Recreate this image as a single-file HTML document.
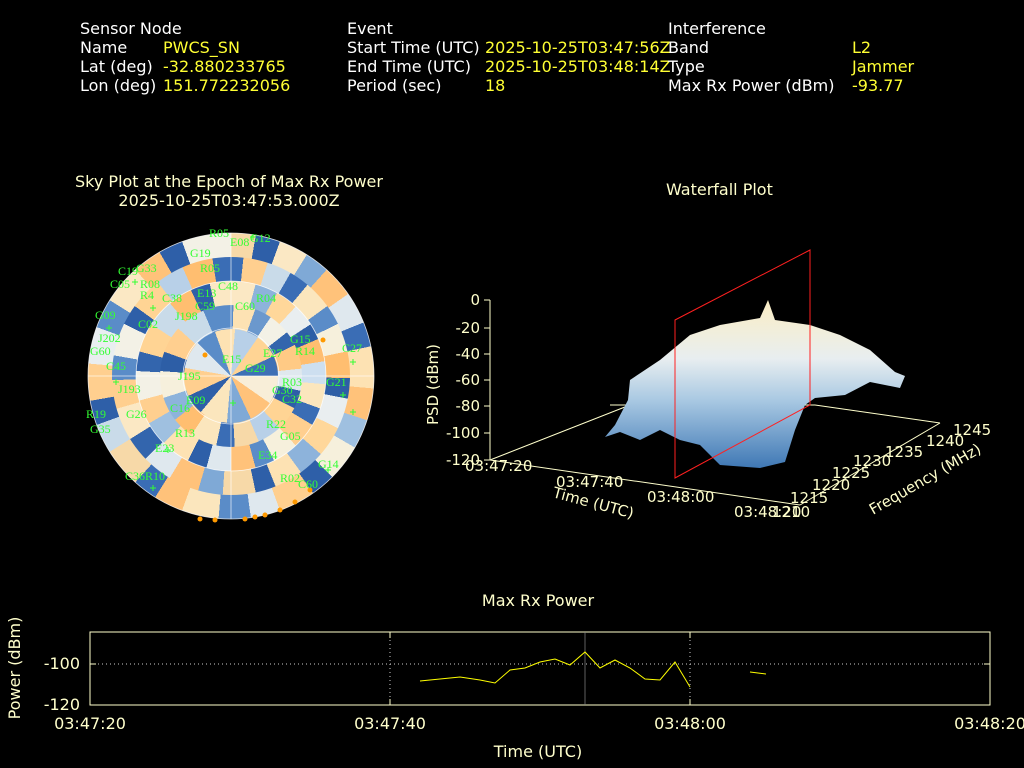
<!DOCTYPE html>
<html><head><meta charset="utf-8"><style>
body{margin:0;background:#000;width:1024px;height:768px;overflow:hidden;position:relative;font-family:"DejaVu Sans","Liberation Sans",sans-serif;}
.t{position:absolute;font-size:16px;color:#fff;white-space:nowrap;line-height:19px}
.y{color:#ffff33}
.c{color:#ffffcc}
.ring{position:absolute;border-radius:50%;}
</style></head><body>
<div class="t" style="left:80px;top:19px">Sensor Node<br>Name<br>Lat (deg)<br>Lon (deg)</div>
<div class="t y" style="left:163px;top:38px">PWCS_SN<br>-32.880233765<br>151.772232056</div>
<div class="t" style="left:347px;top:19px">Event<br>Start Time (UTC)<br>End Time (UTC)<br>Period (sec)</div>
<div class="t y" style="left:485px;top:38px">2025-10-25T03:47:56Z<br>2025-10-25T03:48:14Z<br>18</div>
<div class="t" style="left:668px;top:19px">Interference<br>Band<br>Type<br>Max Rx Power (dBm)</div>
<div class="t y" style="left:852px;top:38px">L2<br>Jammer<br>-93.77</div>

<div class="t c" style="left:64px;top:172px;width:330px;text-align:center">Sky Plot at the Epoch of Max Rx Power<br>2025-10-25T03:47:53.000Z</div>
<div class="t c" style="left:666px;top:180px">Waterfall Plot</div>

<!-- sky plot -->
<div class="ring" style="left:88px;top:233px;width:286px;height:286px;background:conic-gradient(#f7d9a8 0 10deg,#2e5fa8 10deg 20deg,#fbe8c4 20deg 32deg,#7fa9d6 32deg 42deg,#ffc27a 42deg 55deg,#dfe8ee 55deg 68deg,#3a6db5 68deg 78deg,#fde2b3 78deg 95deg,#ffc27a 95deg 108deg,#9fc0e0 108deg 120deg,#f6f0dc 120deg 135deg,#2e5fa8 135deg 145deg,#ffcf8f 145deg 160deg,#dfe8ee 160deg 172deg,#5a8cc8 172deg 185deg,#fbe6bd 185deg 200deg,#ffc27a 200deg 212deg,#3a6db5 212deg 222deg,#f7d9a8 222deg 238deg,#c9dbe9 238deg 250deg,#2e5fa8 250deg 260deg,#ffcf8f 260deg 275deg,#e9eef0 275deg 290deg,#5a8cc8 290deg 302deg,#fbe8c4 302deg 318deg,#ffc27a 318deg 330deg,#2e5fa8 330deg 340deg,#f3f1e6 340deg 360deg)"></div>
<div class="ring" style="left:112px;top:257px;width:238px;height:238px;background:conic-gradient(from 6deg,#ffcf8f 0 12deg,#c9dbe9 12deg 24deg,#3a6db5 24deg 34deg,#fbe6bd 34deg 48deg,#5a8cc8 48deg 58deg,#f6f0dc 58deg 72deg,#ffbe70 72deg 85deg,#2d5ea6 85deg 95deg,#e9eef0 95deg 110deg,#ffd79a 110deg 125deg,#8db3db 125deg 138deg,#fde2b3 138deg 152deg,#2e5fa8 152deg 162deg,#f7d9a8 162deg 178deg,#7fa9d6 178deg 190deg,#ffc27a 190deg 205deg,#dfe8ee 205deg 220deg,#3365ad 220deg 232deg,#fbe8c4 232deg 248deg,#ffcf8f 248deg 262deg,#5a8cc8 262deg 274deg,#f3f1e6 274deg 290deg,#2e5fa8 290deg 300deg,#ffd494 300deg 316deg,#b8d0e8 316deg 330deg,#ffbe70 330deg 345deg,#3a6db5 345deg 360deg)"></div>
<div class="ring" style="left:136px;top:281px;width:190px;height:190px;background:conic-gradient(from 15deg,#8db3db 0 14deg,#ffd79a 14deg 28deg,#e9eef0 28deg 42deg,#2d5ea6 42deg 52deg,#ffbe70 52deg 66deg,#cddff0 66deg 80deg,#fbe6bd 80deg 95deg,#3a6db5 95deg 106deg,#ffcf8f 106deg 122deg,#f6f0dc 122deg 138deg,#5a8cc8 138deg 150deg,#ffc27a 150deg 165deg,#dfe8ee 165deg 180deg,#2e5fa8 180deg 192deg,#fde2b3 192deg 210deg,#9fc0e0 210deg 225deg,#ffcf8f 225deg 240deg,#f3f1e6 240deg 258deg,#3365ad 258deg 270deg,#ffd494 270deg 288deg,#c9dbe9 288deg 305deg,#ffbe70 305deg 320deg,#2e5fa8 320deg 332deg,#fbe8c4 332deg 360deg)"></div>
<div class="ring" style="left:160px;top:305px;width:142px;height:142px;background:conic-gradient(from 2deg,#fde2b3 0 18deg,#6b98cd 18deg 32deg,#f3f1e6 32deg 50deg,#3365ad 50deg 62deg,#ffca85 62deg 82deg,#dfe8ee 82deg 100deg,#2e5fa8 100deg 115deg,#ffd494 115deg 135deg,#b8d0e8 135deg 155deg,#f7d9a8 155deg 175deg,#3a6db5 175deg 190deg,#fbe6bd 190deg 212deg,#ffbe70 212deg 230deg,#8db3db 230deg 250deg,#f6f0dc 250deg 272deg,#2d5ea6 272deg 288deg,#ffcf8f 288deg 310deg,#c9dbe9 310deg 335deg,#5a8cc8 335deg 360deg)"></div>
<div class="ring" style="left:184px;top:329px;width:94px;height:94px;background:conic-gradient(from 5deg,#b8d0e8 0 30deg,#ffd494 30deg 60deg,#3e70b5 60deg 85deg,#f8eed8 85deg 120deg,#ffc27a 120deg 150deg,#7fa9d6 150deg 180deg,#fbe6bd 180deg 215deg,#2e5fa8 215deg 240deg,#ffcf8f 240deg 275deg,#dfe8ee 275deg 310deg,#5a8cc8 310deg 335deg,#fde2b3 335deg 360deg)"></div>
<svg style="position:absolute;left:0;top:0" width="1024" height="768">
<g fill="none" stroke="#fff" stroke-width="0.8" opacity="0.8">
<circle cx="231" cy="376" r="143"/><circle cx="231" cy="376" r="95"/><circle cx="231" cy="376" r="48"/>
<line x1="231" y1="233" x2="231" y2="519"/><line x1="88" y1="376" x2="374" y2="376"/>
</g>
<g fill="#ff9900"><circle cx="200" cy="519" r="2.5"/><circle cx="215" cy="520" r="2.5"/><circle cx="245" cy="519" r="2.5"/><circle cx="255" cy="517" r="2.5"/><circle cx="265" cy="515" r="2.5"/><circle cx="280" cy="510" r="2.5"/><circle cx="295" cy="502" r="2.5"/><circle cx="310" cy="490" r="2.5"/><circle cx="323" cy="340" r="2.5"/><circle cx="205" cy="355" r="2.5"/></g>
<g font-family="Liberation Serif,serif" font-size="12" fill="#33ff33">
<text x="209" y="237">R05</text><text x="230" y="246">E08</text><text x="250" y="242">G12</text>
<text x="190" y="257">G19</text><text x="118" y="275">C19</text><text x="136" y="272">G33</text>
<text x="110" y="288">C05</text><text x="140" y="288">R08</text><text x="200" y="272">R05</text>
<text x="140" y="299">R4</text><text x="162" y="302">C38</text><text x="197" y="297">E13</text><text x="218" y="290">C48</text>
<text x="256" y="302">R04</text><text x="195" y="310">C59</text><text x="235" y="310">C60</text>
<text x="95" y="319">G09</text><text x="175" y="320">J198</text><text x="138" y="328">C02</text>
<text x="98" y="342">J202</text><text x="90" y="355">G60</text><text x="106" y="370">C45</text>
<text x="290" y="343">G15</text><text x="342" y="352">C27</text><text x="263" y="357">E27</text><text x="295" y="355">R14</text>
<text x="222" y="363">E15</text><text x="245" y="372">G29</text><text x="178" y="380">J195</text>
<text x="282" y="386">R03</text><text x="326" y="386">G21</text><text x="272" y="394">G30</text>
<text x="118" y="393">J193</text><text x="282" y="403">C32</text><text x="86" y="418">R19</text>
<text x="126" y="418">G26</text><text x="170" y="412">C16</text><text x="186" y="404">E09</text>
<text x="266" y="428">R22</text><text x="280" y="440">G05</text><text x="175" y="437">R13</text>
<text x="90" y="433">G35</text><text x="155" y="452">E23</text><text x="258" y="459">E34</text>
<text x="318" y="468">G14</text><text x="125" y="480">C36</text><text x="145" y="480">R10</text>
<text x="280" y="482">R02</text><text x="298" y="488">C60</text>
</g>
<g stroke="#33ff33" stroke-width="1">
<path d="M250 237h6M253 234v6M132 282h6M135 279v6M150 308h6M153 305v6M106 328h6M109 325v6M113 382h6M116 379v6M350 362h6M353 359v6M340 395h6M343 392v6M230 403h6M233 400v6M165 450h6M168 447v6M350 412h6M353 409v6M150 488h6M153 485v6M325 470h6M328 467v6"/>
</g>

<!-- waterfall -->
<defs><linearGradient id="wg" x1="0" y1="0" x2="0" y2="1">
<stop offset="0" stop-color="#fbedc4"/><stop offset="0.35" stop-color="#e8eef0"/><stop offset="0.6" stop-color="#a8c8e2"/><stop offset="1" stop-color="#3f78b5"/></linearGradient></defs>
<g stroke="#ffffcc" stroke-width="1" fill="none">
<line x1="490" y1="300" x2="490" y2="460"/>
<line x1="490" y1="460" x2="800" y2="505"/>
<line x1="800" y1="505" x2="940" y2="423"/>
<line x1="490" y1="460" x2="630" y2="405"/>
<line x1="610" y1="405" x2="815" y2="405"/>
<line x1="815" y1="405" x2="940" y2="423"/>
<path d="M484 300h6M484 328h6M484 354h6M484 380h6M484 406h6M484 433h6M484 460h6"/>
</g>
<polygon fill="url(#wg)" points="605,437 615,425 628,400 630,380 660,360 690,335 720,325 760,318 768,300 775,320 810,325 840,335 870,350 895,372 905,376 900,388 870,382 845,395 815,398 805,405 795,430 785,462 760,468 720,465 700,445 680,440 660,430 640,440 620,432"/>
<g stroke="#ff2020" stroke-width="1" fill="none"><polygon points="675,320 810,250 810,405 675,478"/></g>
<g font-size="15" fill="#ffffcc">
<text x="480" y="305" text-anchor="end">0</text><text x="480" y="333" text-anchor="end">-20</text>
<text x="480" y="359" text-anchor="end">-40</text><text x="480" y="385" text-anchor="end">-60</text>
<text x="480" y="411" text-anchor="end">-80</text><text x="480" y="438" text-anchor="end">-100</text>
<text x="480" y="465" text-anchor="end">-120</text>
<text x="438" y="425" transform="rotate(-90 438 425)">PSD (dBm)</text>
<text x="465" y="471">03:47:20</text><text x="556" y="487">03:47:40</text>
<text x="647" y="502">03:48:00</text><text x="734" y="517">03:48:20</text>
<text x="552" y="497" transform="rotate(15 552 497)">Time (UTC)</text>
<text x="772" y="517">1210</text><text x="790" y="503">1215</text><text x="812" y="490">1220</text>
<text x="832" y="478">1225</text><text x="853" y="466">1230</text><text x="885" y="457">1235</text>
<text x="926" y="446">1240</text><text x="953" y="435">1245</text>
<text x="873" y="515" transform="rotate(-30 873 515)">Frequency (MHz)</text>
</g>

<!-- bottom chart -->
<text x="538" y="606" font-size="16" fill="#ffffcc" text-anchor="middle">Max Rx Power</text>
<rect x="90" y="632" width="900" height="73" fill="none" stroke="#ffffcc"/>
<g stroke="#ccc" stroke-dasharray="1,3" stroke-width="1"><line x1="390" y1="632" x2="390" y2="705"/><line x1="690" y1="632" x2="690" y2="705"/><line x1="90" y1="664" x2="990" y2="664"/></g>
<line x1="585" y1="632" x2="585" y2="705" stroke="#888" stroke-width="0.7"/>
<path d="M90 632v6M390 632v6M690 632v6M990 632v6M90 705v-6M390 705v-6M690 705v-6M990 705v-6M90 664h6M990 664h-6" stroke="#ffffcc"/>
<polyline fill="none" stroke="#ffff00" stroke-width="1" points="420,681 440,679 460,677 480,680 495,683 510,670 525,668 540,662 555,659 570,665 585,652 600,668 615,660 630,668 645,679 660,680 675,662 690,687"/>
<line x1="750" y1="672" x2="766" y2="674" stroke="#ffff00"/>
<g font-size="16" fill="#ffffcc">
<text x="80" y="669" text-anchor="end">-100</text><text x="80" y="710" text-anchor="end">-120</text>
<text x="90" y="729" text-anchor="middle">03:47:20</text><text x="390" y="729" text-anchor="middle">03:47:40</text>
<text x="690" y="729" text-anchor="middle">03:48:00</text><text x="990" y="729" text-anchor="middle">03:48:20</text>
<text x="538" y="757" text-anchor="middle">Time (UTC)</text>
<text x="20" y="668" text-anchor="middle" transform="rotate(-90 20 668)">Power (dBm)</text>
</g>
</svg>
</body></html>
